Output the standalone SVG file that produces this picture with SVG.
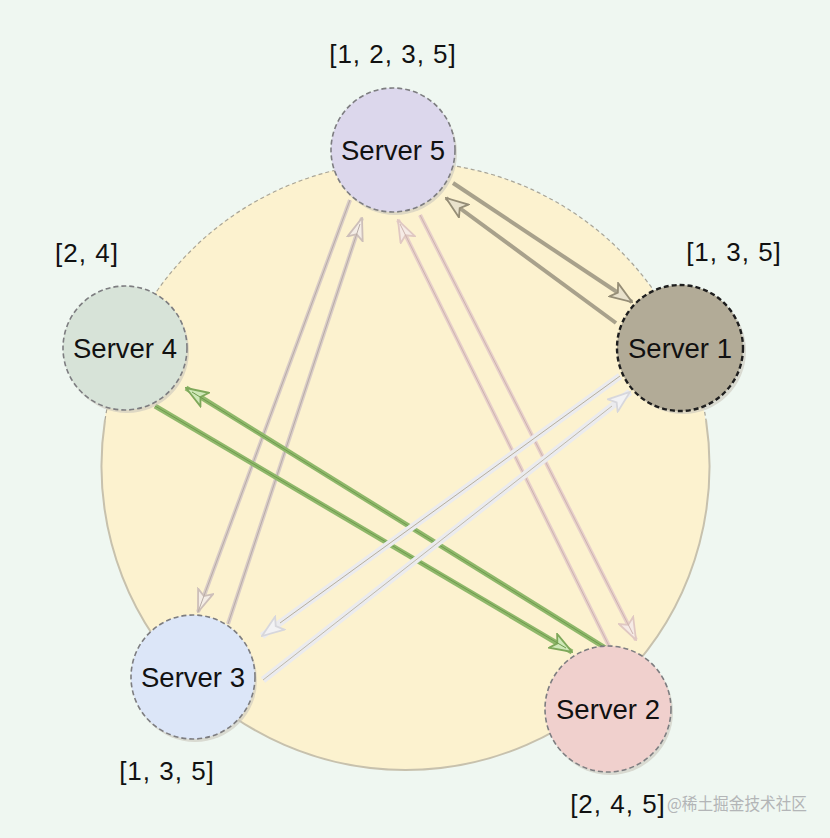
<svg xmlns="http://www.w3.org/2000/svg" width="830" height="838" viewBox="0 0 830 838">
<style>
  .node-text { font-family: "Liberation Sans", Arial, sans-serif; font-size: 27.5px; fill: #111; text-anchor: middle; }
  .lbl { font-family: "Liberation Sans", Arial, sans-serif; font-size: 26px; fill: #111; letter-spacing: 1px; }
  .node { stroke: #7d7d80; stroke-width: 1.6; stroke-dasharray: 5 3; }
  .shadow { fill: #c9c6bc; opacity: 0.6; }
  .c-brown { stroke: #a8a18b; stroke-width: 4; fill: none; }
  .c-green { stroke: #8fb86a; stroke-width: 5; fill: none; }
  .c-pg { stroke: #d9ccc7; stroke-width: 4; fill: none; }
  .c-pink { stroke: #e7cfca; stroke-width: 4; fill: none; }
  .c-white { stroke: #ebebee; stroke-width: 7; fill: none; }
  .edge { stroke-width: 1; fill: none; }
</style>
<defs>
  <marker id="ah-brown" viewBox="0 0 24 18" refX="23" refY="9" markerWidth="24" markerHeight="18" markerUnits="userSpaceOnUse" orient="auto">
    <path d="M1,1 L23,9 L1,17 L6,9 Z" fill="#e9e2cc" stroke="#958d76" stroke-width="1.8"/>
  </marker>
  <marker id="ah-green" viewBox="0 0 24 18" refX="23" refY="9" markerWidth="24" markerHeight="18" markerUnits="userSpaceOnUse" orient="auto">
    <path d="M1,1 L23,9 L1,17 L6,9 Z" fill="#cfe8b8" stroke="#7ea85a" stroke-width="1.8"/>
  </marker>
  <marker id="ah-pg" viewBox="0 0 24 18" refX="23" refY="9" markerWidth="24" markerHeight="18" markerUnits="userSpaceOnUse" orient="auto">
    <path d="M1,1 L23,9 L1,17 L6,9 Z" fill="#f4ede6" stroke="#cdbfb9" stroke-width="1.8"/>
  </marker>
  <marker id="ah-pink" viewBox="0 0 24 18" refX="23" refY="9" markerWidth="24" markerHeight="18" markerUnits="userSpaceOnUse" orient="auto">
    <path d="M1,1 L23,9 L1,17 L6,9 Z" fill="#f6ebe6" stroke="#e0c8c2" stroke-width="1.8"/>
  </marker>
  <marker id="ah-white" viewBox="0 0 24 18" refX="23" refY="9" markerWidth="24" markerHeight="18" markerUnits="userSpaceOnUse" orient="auto">
    <path d="M1,1 L23,9 L1,17 L6,9 Z" fill="#f2f2f4" stroke="#d7d7dc" stroke-width="1.8"/>
  </marker>
</defs>

<rect x="0" y="0" width="830" height="838" fill="#eff7f1"/>

<g id="ring">
  <circle cx="405" cy="466" r="304" fill="#fcf2cf" stroke="none"/>
  <path d="M 105 420 A 304 304 0 0 1 706 420" fill="none" stroke="#a9a597" stroke-width="1.2" stroke-dasharray="4 3"/>
  <path d="M 706 420 A 304 304 0 1 1 105 420" fill="none" stroke="#c7c1ad" stroke-width="2"/>
</g>

<g id="connectors">
  <!-- Server 5 <-> Server 1 -->
  <line class="c-brown" x1="453" y1="183" x2="632" y2="302" marker-end="url(#ah-brown)"/>
  <line class="c-brown" x1="616" y1="323" x2="446" y2="198" marker-end="url(#ah-brown)"/>
  <!-- Server 5 <-> Server 3 -->
  <line class="c-pg" x1="350" y1="200" x2="198" y2="612" marker-end="url(#ah-pg)"/>
  <line class="c-pg" x1="228" y1="624" x2="362" y2="218" marker-end="url(#ah-pg)"/>
  <line class="edge" stroke="#b8aca6" x1="350" y1="200" x2="198" y2="612"/>
  <line class="edge" stroke="#b8aca6" x1="228" y1="624" x2="360" y2="224"/>
  <!-- Server 5 <-> Server 2 -->
  <line class="c-pink" x1="611" y1="650" x2="398" y2="220" marker-end="url(#ah-pink)"/>
  <line class="c-pink" x1="420" y1="215" x2="636" y2="640" marker-end="url(#ah-pink)"/>
  <line class="edge" stroke="#cdb4ae" x1="611" y1="650" x2="400" y2="224"/>
  <line class="edge" stroke="#cdb4ae" x1="420" y1="215" x2="633" y2="634"/>
  <!-- Server 4 <-> Server 2 -->
  <line class="c-green" x1="612" y1="652" x2="186" y2="388" marker-end="url(#ah-green)"/>
  <line class="c-green" x1="155" y1="406" x2="572" y2="652" marker-end="url(#ah-green)"/>
  <line class="edge" stroke="#6f9a4e" x1="612" y1="652" x2="192" y2="392"/>
  <line class="edge" stroke="#6f9a4e" x1="155" y1="406" x2="566" y2="648"/>
  <!-- Server 1 <-> Server 3 -->
  <line class="c-white" x1="620" y1="376" x2="262" y2="636" marker-end="url(#ah-white)"/>
  <line class="c-white" x1="263" y1="680" x2="630" y2="392" marker-end="url(#ah-white)"/>
  <line class="edge" stroke="#b5ae9c" x1="620" y1="376" x2="280" y2="623"/>
  <line class="edge" stroke="#bdb8aa" x1="263" y1="680" x2="612" y2="406"/>
</g>

<g id="server5">
  <circle class="shadow" cx="395" cy="153" r="62"/>
  <circle class="node" cx="393" cy="150" r="62" fill="#dcd7ec"/>
  <text class="node-text" x="393" y="160">Server 5</text>
</g>
<g id="server1">
  <circle class="shadow" cx="683" cy="351" r="63"/>
  <circle cx="680" cy="348" r="63" fill="#b2ab97" stroke="#1e1e1e" stroke-width="2.4" stroke-dasharray="5 3"/>
  <text class="node-text" x="680" y="358">Server 1</text>
</g>
<g id="server4">
  <circle class="shadow" cx="127" cy="351" r="62"/>
  <circle class="node" cx="125" cy="348" r="62" fill="#d7e3d8"/>
  <text class="node-text" x="125" y="358">Server 4</text>
</g>
<g id="server3">
  <circle class="shadow" cx="195" cy="680" r="62"/>
  <circle class="node" cx="193" cy="677" r="62" fill="#dce6f8"/>
  <text class="node-text" x="193" y="687">Server 3</text>
</g>
<g id="server2">
  <circle class="shadow" cx="610" cy="712" r="63"/>
  <circle class="node" cx="608" cy="709" r="63" fill="#f0d0cd" stroke="#8a6e6c"/>
  <text class="node-text" x="608" y="719">Server 2</text>
</g>

<g id="labels">
  <text class="lbl" x="393" y="63" text-anchor="middle">[1, 2, 3, 5]</text>
  <text class="lbl" x="734" y="261" text-anchor="middle">[1, 3, 5]</text>
  <text class="lbl" x="87" y="262" text-anchor="middle">[2, 4]</text>
  <text class="lbl" x="167" y="780" text-anchor="middle">[1, 3, 5]</text>
  <text class="lbl" x="618" y="813" text-anchor="middle">[2, 4, 5]</text>
  <text x="667" y="810" font-family="'Noto Sans CJK SC', 'Liberation Sans', sans-serif" font-size="17" fill="#a9aaad" opacity="0.85" textLength="140" lengthAdjust="spacingAndGlyphs">@稀土掘金技术社区</text>
</g>
</svg>
